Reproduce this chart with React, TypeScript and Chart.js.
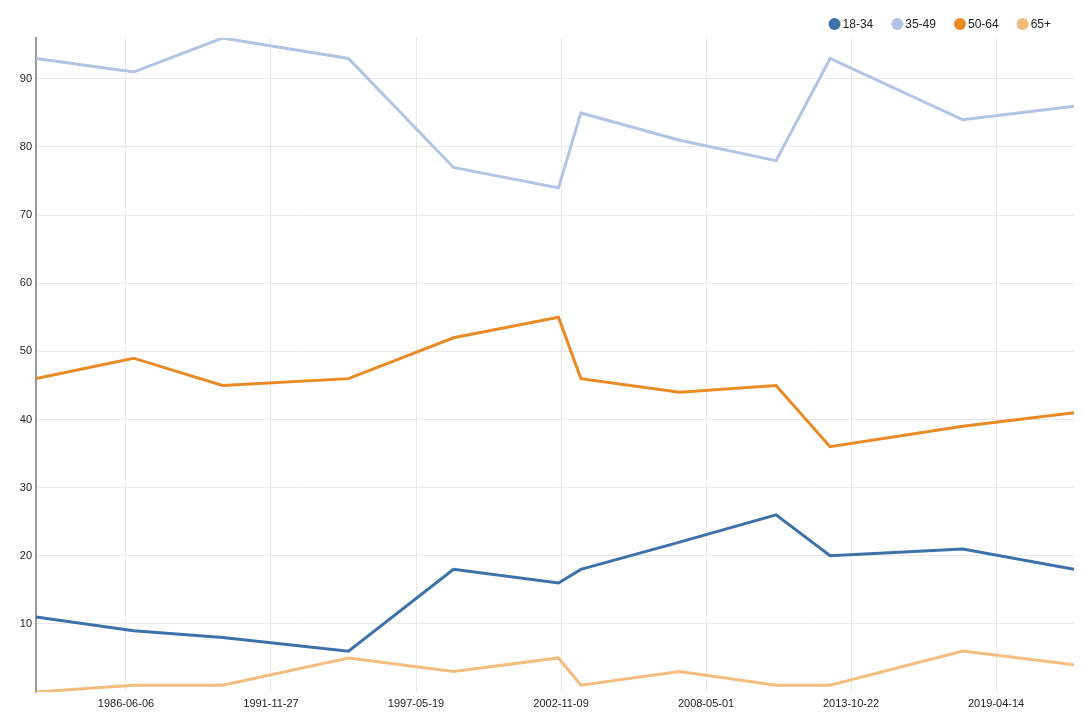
import React, { useEffect, useRef } from 'react';
import { Chart, registerables } from 'chart.js';

Chart.register(...registerables);

// ---- Data ----
const dates = [
  '1983-01-12', '1986-09-19', '1990-01-28', '1994-10-31', '1998-10-18', '2002-10-05',
  '2003-08-10', '2007-05-03', '2010-12-23', '2013-01-06', '2018-01-10', '2022-03-24',
];
const seriesNames = ['18-34', '35-49', '50-64', '65+'];
const age18to34 = [11, 9, 8, 6, 18, 16, 18, 22, 26, 20, 21, 18];
const age35to49 = [93, 91, 96, 93, 77, 74, 85, 81, 78, 93, 84, 86];
const age50to64 = [46, 49, 45, 46, 52, 55, 46, 44, 45, 36, 39, 41];
const age65plus = [0, 1, 1, 5, 3, 5, 1, 3, 1, 1, 6, 4];
const xTickLabels = ['1986-06-06', '1991-11-27', '1997-05-19', '2002-11-09', '2008-05-01', '2013-10-22', '2019-04-14'];
const yTickValues = [10, 20, 30, 40, 50, 60, 70, 80, 90];
const yMin = 0;
const yMax = 96;

const seriesValues = [age18to34, age35to49, age50to64, age65plus];
const seriesColors = ['#3c72a9', '#b0c4e4', '#ea8a25', '#f3bd7e'];

const FONT = '"Liberation Sans", Arial, Helvetica, sans-serif';
const toMs = (s: string) => Date.parse(s + 'T00:00:00Z');
const fmtDate = (v: number) => new Date(v).toISOString().slice(0, 10);

const rightLegend = {
  id: 'rightLegend',
  afterDraw(chart: any) {
    const ctx = chart.ctx as CanvasRenderingContext2D;
    ctx.save();
    ctx.font = `12px ${FONT}`;
    ctx.textBaseline = 'middle';
    ctx.textAlign = 'left';
    const items = chart.data.datasets.map((d: any) => ({
      text: d.label as string,
      color: d.borderColor as string,
      w: ctx.measureText(d.label).width,
    }));
    const r = 6;
    const textGap = 8;
    const itemGap = 24;
    let total = r;
    items.forEach((it: any, i: number) => {
      total += textGap + it.w + (i < items.length - 1 ? itemGap : 0);
    });
    const end = chart.chartArea.right - 23;
    let cx = end - total + r;
    const cy = 24;
    items.forEach((it: any) => {
      ctx.beginPath();
      ctx.arc(cx, cy, r, 0, Math.PI * 2);
      ctx.fillStyle = it.color;
      ctx.fill();
      ctx.fillStyle = '#222';
      ctx.fillText(it.text, cx + textGap, cy + 0.5);
      cx = cx + textGap + it.w + itemGap;
    });
    ctx.restore();
  },
};

export default function App() {
  const canvasRef = useRef<HTMLCanvasElement | null>(null);

  useEffect(() => {
    document.body.style.margin = '0';
    const canvas = canvasRef.current;
    if (!canvas) return;

    const datasets = seriesNames.map((name, i) => ({
      label: name,
      data: dates.map((d, j) => ({ x: toMs(d), y: seriesValues[i][j] })),
      borderColor: seriesColors[i],
      backgroundColor: seriesColors[i],
      borderWidth: 3,
      pointRadius: 0,
      pointHoverRadius: 0,
      tension: 0,
      fill: false,
    }));

    const chart = new Chart(canvas, {
      type: 'line',
      data: { datasets },
      plugins: [rightLegend],
      options: {
        animation: false,
        responsive: false,
        maintainAspectRatio: false,
        layout: { padding: { top: 38, right: 8, bottom: 0, left: 0 } },
        plugins: {
          legend: { display: false },
          tooltip: { enabled: false },
          title: { display: false },
        },
        scales: {
          x: {
            type: 'linear',
            min: toMs(dates[0]),
            max: toMs(dates[dates.length - 1]),
            afterBuildTicks: (scale: any) => {
              scale.ticks = xTickLabels.map((l) => ({ value: toMs(l) }));
            },
            afterFit: (scale: any) => {
              scale.height = 28;
            },
            ticks: {
              autoSkip: false,
              maxRotation: 0,
              minRotation: 0,
              padding: 5,
              color: '#222',
              font: { family: FONT, size: 11 },
              callback: (v: any) => fmtDate(Number(v)),
            },
            grid: { color: '#e8e8e8', lineWidth: 1, drawTicks: false },
            border: { display: false },
          },
          y: {
            type: 'linear',
            min: yMin,
            max: yMax,
            afterBuildTicks: (scale: any) => {
              scale.ticks = yTickValues.map((v) => ({ value: v }));
            },
            afterFit: (scale: any) => {
              scale.width = 36;
            },
            ticks: {
              padding: 4,
              color: '#222',
              font: { family: FONT, size: 11 },
              callback: (v: any) => String(v),
            },
            grid: { color: '#e8e8e8', lineWidth: 1, drawTicks: false },
            border: { display: true, color: '#999', width: 2 },
          },
        },
      },
    });

    return () => chart.destroy();
  }, []);

  return (
    <div style={{ width: 1082, height: 720, background: '#fff' }}>
      <canvas ref={canvasRef} width={1082} height={720} style={{ display: 'block' }} />
    </div>
  );
}
